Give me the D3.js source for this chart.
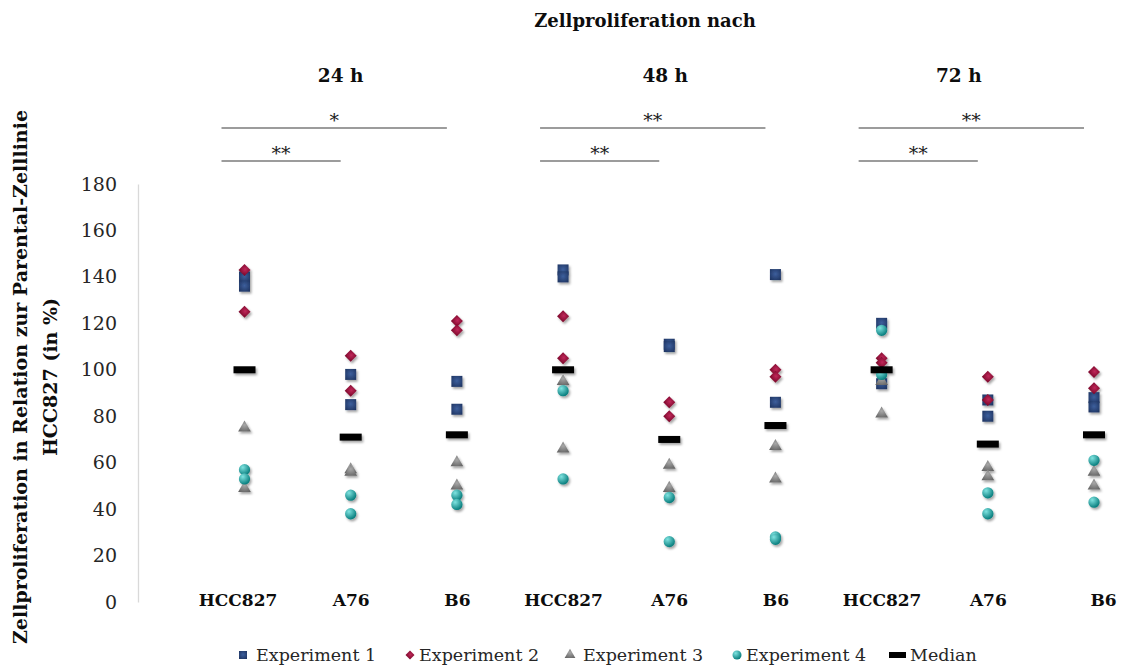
<!DOCTYPE html>
<html>
<head>
<meta charset="utf-8">
<script src="https://cdn.jsdelivr.net/npm/d3@7"></script>
<style>
  html, body { margin: 0; padding: 0; background: #ffffff; }
  svg { display: block; }
  text { font-family: "DejaVu Serif", "Liberation Serif", serif; }
</style>
</head>
<body>
<div id="chart"></div>
<script>
// ---------- data ----------
const categories = ["HCC827", "A76", "B6", "HCC827", "A76", "B6", "HCC827", "A76", "B6"];
const timepoints = ["24 h", "48 h", "72 h"];
const yTicks = [0, 20, 40, 60, 80, 100, 120, 140, 160, 180];

// two values per category for each experiment
const experiment1 = [[140, 136], [98, 85], [95, 83], [143, 140], [111, 110], [141, 86], [120, 94], [87, 80], [88, 84]];
const experiment2 = [[143, 125], [106, 91], [121, 117], [123, 105], [86, 80], [100, 97], [105, 103], [97, 87], [99, 92]];
const experiment3 = [[75, 49], [57, 56], [60, 50], [95, 66], [59, 49], [67, 53], [95, 81], [58, 54], [56, 50]];
const experiment4 = [[57, 53], [46, 38], [46, 42], [91, 53], [45, 26], [28, 27], [117, 98], [47, 38], [61, 43]];
const medians = [100, 71, 72, 100, 70, 76, 100, 68, 72];

const seriesNames = ["Experiment 1", "Experiment 2", "Experiment 3", "Experiment 4", "Median"];
// significance brackets: [fromCategory, toCategory, label, level]
const brackets = [[0, 2, "*", 0], [0, 1, "**", 1], [3, 5, "**", 0], [3, 4, "**", 1], [6, 8, "**", 0], [6, 7, "**", 1]];

// ---------- layout ----------
const W = 1124, H = 669;
const svg = d3.select("#chart").append("svg").attr("width", W).attr("height", H);
const defs = svg.append("defs");

const f = defs.append("filter").attr("id", "shadow").attr("x", "-50%").attr("y", "-50%").attr("width", "200%").attr("height", "200%");
f.append("feDropShadow").attr("dx", 1.5).attr("dy", 2).attr("stdDeviation", 1.2).attr("flood-color", "#000").attr("flood-opacity", 0.35);

function radial(id, inner, outer, cx, cy) {
  const g = defs.append("radialGradient").attr("id", id).attr("cx", cx).attr("cy", cy).attr("r", "0.75");
  g.append("stop").attr("offset", "0%").attr("stop-color", inner);
  g.append("stop").attr("offset", "100%").attr("stop-color", outer);
}
radial("gSq", "#3d5f9c", "#1b2f5a", "50%", "45%");
radial("gDi", "#c0285a", "#780628", "50%", "40%");
radial("gTr", "#a8a8a8", "#5e5e5e", "50%", "40%");
radial("gCi", "#7fe3e0", "#007777", "35%", "30%");

const y = d3.scaleLinear().domain([0, 180]).range([602, 184]);
const x = d3.scalePoint().domain(d3.range(categories.length)).range([244.5, 1094]);

// y axis
const yAxis = svg.append("g").attr("transform", "translate(138,0)")
  .call(d3.axisLeft(y).tickValues(yTicks).tickSize(0).tickSizeOuter(0).tickPadding(21));
yAxis.attr("font-family", null);
yAxis.select(".domain").attr("stroke", "#d9d9d9").attr("stroke-width", 1.3);
yAxis.selectAll("text").attr("font-size", 19).attr("fill", "#262626");

// x category labels
const labelShift = [-7, 0, 0, 0, 0, 0, 0, 0, 9];
const xAxis = svg.append("g").attr("transform", "translate(0,594)")
  .call(d3.axisBottom(x).tickSize(0).tickPadding(0).tickFormat(i => categories[i]));
xAxis.attr("font-family", null);
xAxis.select(".domain").remove();
xAxis.selectAll("text").attr("font-size", 17)
  .attr("font-weight", "bold").attr("fill", "#0d0d0d")
  .attr("dx", (d, i) => labelShift[i]);

// titles
svg.append("text").attr("x", 645).attr("y", 27).attr("text-anchor", "middle")
  .attr("font-size", 18).attr("font-weight", "bold").attr("fill", "#0d0d0d").text("Zellproliferation nach");
const timeShift = [-10, -4, -29];
timepoints.forEach((t, k) => {
  const cx = x(k * 3 + 1) + timeShift[k];
  svg.append("text").attr("x", cx).attr("y", 82).attr("text-anchor", "middle")
    .attr("font-size", 18.5).attr("font-weight", "bold").attr("fill", "#0d0d0d").text(t);
});

// y axis title
const yt = svg.append("text").attr("transform", "translate(0,377) rotate(-90)")
  .attr("text-anchor", "middle").attr("font-size", 19).attr("font-weight", "bold").attr("fill", "#0d0d0d");
yt.append("tspan").attr("x", 0).attr("y", 27).text("Zellproliferation in Relation zur Parental-Zelllinie");
yt.append("tspan").attr("x", 0).attr("y", 57).text("HCC827 (in %)");

// significance brackets
const levelY = [128, 161];
const bg = svg.append("g");
brackets.forEach(([a, b, lab, lev]) => {
  const x1 = x(a) - 23, x2 = x(b) - 10;
  bg.append("line").attr("x1", x1).attr("x2", x2).attr("y1", levelY[lev]).attr("y2", levelY[lev])
    .attr("stroke", "#3a3a3a").attr("stroke-width", 1.1);
  bg.append("text").attr("x", (x1 + x2) / 2).attr("y", levelY[lev] - 1).attr("text-anchor", "middle")
    .attr("font-size", 19).attr("fill", "#1a1a1a").text(lab);
});

// markers
const sqPath = d3.symbol().type(d3.symbolSquare).size(121)();
const diPath = d3.symbol().type(d3.symbolSquare).size(72)();
const trPath = d3.symbol().type(d3.symbolTriangle).size(70)();
const ciPath = d3.symbol().type(d3.symbolCircle).size(100)();

function flat(arr) {
  const out = [];
  arr.forEach((vals, i) => vals.forEach(v => out.push({ i, v })));
  return out;
}
const plot = svg.append("g").attr("filter", "url(#shadow)");
function drawSeries(arr, path, fill, rot) {
  plot.append("g").selectAll("path").data(flat(arr)).join("path")
    .attr("d", path).attr("fill", fill)
    .attr("transform", d => `translate(${x(d.i)},${y(d.v)})` + (rot ? ` rotate(${rot})` : ""));
}
drawSeries(experiment1, sqPath, "url(#gSq)", 0);
drawSeries(experiment2, diPath, "url(#gDi)", 45);
drawSeries(experiment3, trPath, "url(#gTr)", 0);
drawSeries(experiment4, ciPath, "url(#gCi)", 0);
plot.append("g").selectAll("rect").data(medians).join("rect")
  .attr("x", (d, i) => x(i) - 11).attr("y", d => y(d) - 3.5)
  .attr("width", 22).attr("height", 7).attr("fill", "#000");

// legend
const legendX = [243, 410, 570, 737, 898];
const legendTextX = [256, 419, 583, 746, 910];
const ly = 655;
const lg = svg.append("g");
const legSymbols = [
  g => g.append("path").attr("d", d3.symbol().type(d3.symbolSquare).size(64)()).attr("fill", "url(#gSq)"),
  g => g.append("path").attr("d", d3.symbol().type(d3.symbolSquare).size(40)()).attr("transform", "rotate(45)").attr("fill", "url(#gDi)"),
  g => g.append("path").attr("d", d3.symbol().type(d3.symbolTriangle).size(50)()).attr("fill", "url(#gTr)"),
  g => g.append("path").attr("d", d3.symbol().type(d3.symbolCircle).size(64)()).attr("fill", "url(#gCi)"),
  g => g.append("rect").attr("x", -9).attr("y", -3).attr("width", 17).attr("height", 6).attr("fill", "#000")
];
seriesNames.forEach((name, k) => {
  const g = lg.append("g").attr("transform", `translate(${legendX[k]},${ly})`);
  legSymbols[k](g);
  lg.append("text").attr("x", legendTextX[k]).attr("y", ly + 6).attr("font-size", 17.5)
    .attr("fill", "#262626").text(name);
});
</script>
</body>
</html>
